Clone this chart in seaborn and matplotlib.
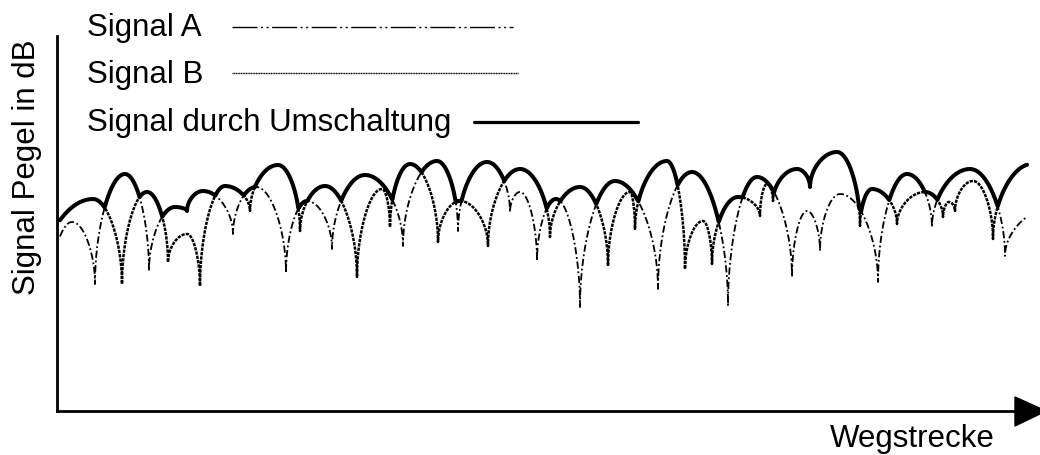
import numpy as np
import pandas as pd
import matplotlib
matplotlib.use("Agg")
import matplotlib.pyplot as plt
from matplotlib.patches import Polygon
import seaborn as sns

# ---- data (x = distance units, level = signal level) ----
a_null_x = [52, 95, 149, 187, 233, 286, 332, 403, 458, 510, 537, 580, 658, 728, 792, 820, 878, 932, 1005, 1080]
a_null_lvl = [127, 127, 140, 200, 177, 138, 162, 165, 180, 199, 150, 104, 122, 105, 134, 160, 129, 184, 155, 152]
a_peak_x = [72, 125, 175, 203, 256, 307, 365, 437, 487, 520, 556, 615, 692, 757, 807, 840, 907, 970, 1050]
a_peak_lvl = [189, 237, 204, 220, 224, 210, 236, 250, 249, 219, 212, 230, 239, 234, 200, 217, 237, 242, 202]

b_null_x = [40, 122, 168, 200, 250, 300, 357, 390, 438, 488, 550, 608, 635, 685, 712, 760, 773, 810, 860, 897, 943, 955, 993, 1070]
b_null_lvl = [128, 127, 149, 125, 200, 180, 134, 184, 169, 165, 174, 145, 182, 142, 147, 195, 210, 224, 185, 187, 194, 200, 172, 182]
b_peak_x = [93, 147, 187, 225, 278, 325, 382, 410, 460, 520, 580, 630, 667, 703, 738, 767, 797, 837, 872, 925, 949, 973, 1032]
b_peak_lvl = [212, 219, 177, 225, 246, 225, 222, 247, 210, 242, 224, 219, 250, 190, 214, 227, 242, 259, 222, 219, 209, 230, 247]

x_start, x_end = 60, 1027
labels = ["Signal A", "Signal B", "Signal durch Umschaltung"]
x_label = "Wegstrecke"
y_label = "Signal Pegel in dB"


def fading(x, null_x, null_lvl, peak_x, peak_lvl, p=0.5):
    y = np.full_like(x, np.nan, dtype=float)
    for i in range(len(peak_x)):
        x0, x1, xp = null_x[i], null_x[i + 1], peak_x[i]
        m = (x >= x0) & (x <= xp)
        u = 0.5 * (x[m] - x0) / (xp - x0)
        y[m] = null_lvl[i] + (peak_lvl[i] - null_lvl[i]) * np.abs(np.sin(np.pi * u)) ** p
        m = (x > xp) & (x <= x1)
        u = 0.5 + 0.5 * (x[m] - xp) / (x1 - xp)
        y[m] = null_lvl[i + 1] + (peak_lvl[i] - null_lvl[i + 1]) * np.abs(np.sin(np.pi * u)) ** p
    return y


xg = np.linspace(x_start, x_end, 4000)
xg = np.union1d(xg, [v for v in a_null_x + b_null_x if x_start <= v <= x_end])
sig_a = fading(xg, a_null_x, a_null_lvl, a_peak_x, a_peak_lvl)
sig_b = fading(xg, b_null_x, b_null_lvl, b_peak_x, b_peak_lvl)
sig_sw = np.maximum(sig_a, sig_b)
df = pd.DataFrame({"x": xg, "A": sig_a, "B": sig_b, "S": sig_sw})

sns.set_theme(style="white")
plt.rcParams["font.family"] = ["Liberation Sans", "DejaVu Sans"]

fig = plt.figure(figsize=(10.4, 4.56), dpi=100)
ax = fig.add_axes([57 / 1040, 44 / 456, 983 / 1040, 412 / 456])
ax.set_xlim(57, 1040)
ax.set_ylim(0, 412)

style_a = (0, (4, 1.5, 1, 1.5))
style_b = (0, (1.3, 0.45))
sns.lineplot(data=df, x="x", y="A", ax=ax, color="black", lw=1.3,
             linestyle=style_a, estimator=None, sort=False)
sns.lineplot(data=df, x="x", y="B", ax=ax, color="black", lw=1.8,
             linestyle=style_b, estimator=None, sort=False)
sns.lineplot(data=df, x="x", y="S", ax=ax, color="black", lw=2.9,
             estimator=None, sort=False, solid_capstyle="round")

ax.set_xticks([])
ax.set_yticks([])
ax.set_xlabel("")
ax.set_ylabel("")
for s in ["top", "right"]:
    ax.spines[s].set_visible(False)
for s in ["left", "bottom"]:
    ax.spines[s].set_color("black")
    ax.spines[s].set_linewidth(2.0)
ax.spines["left"].set_bounds(0, 375)
ax.spines["bottom"].set_bounds(57, 1017)
ax.add_patch(Polygon([(1015, -15), (1015, 14), (1046, 0)], closed=True,
                     facecolor="black", edgecolor="black", clip_on=False))

# legend (text left, sample line right)
fs = 22.5
ax.text(87, 376, labels[0], fontsize=fs, va="baseline", ha="left", color="black")
ax.text(87, 329, labels[1], fontsize=fs, va="baseline", ha="left", color="black")
ax.text(87, 281, labels[2], fontsize=fs, va="baseline", ha="left", color="black")
ax.plot([232, 513], [384, 384], color="black", lw=1.0,
        linestyle=(0, (18, 2.5, 1.5, 2.5, 1.5, 2.5)), clip_on=False)
ax.plot([232, 518], [338, 338], color="black", lw=1.0,
        linestyle=(0, (0.8, 0.4)), clip_on=False)
ax.plot([474, 638], [289, 289], color="black", lw=2.3, clip_on=False)

fig.text(27 / 1040, 1 - 167 / 456, y_label, rotation=90, ha="center", va="center",
         fontsize=fs, color="black")
fig.text(912 / 1040, 1 - 447 / 456, x_label, ha="center", va="baseline",
         fontsize=fs, color="black")

fig.savefig("out.png", dpi=100)
